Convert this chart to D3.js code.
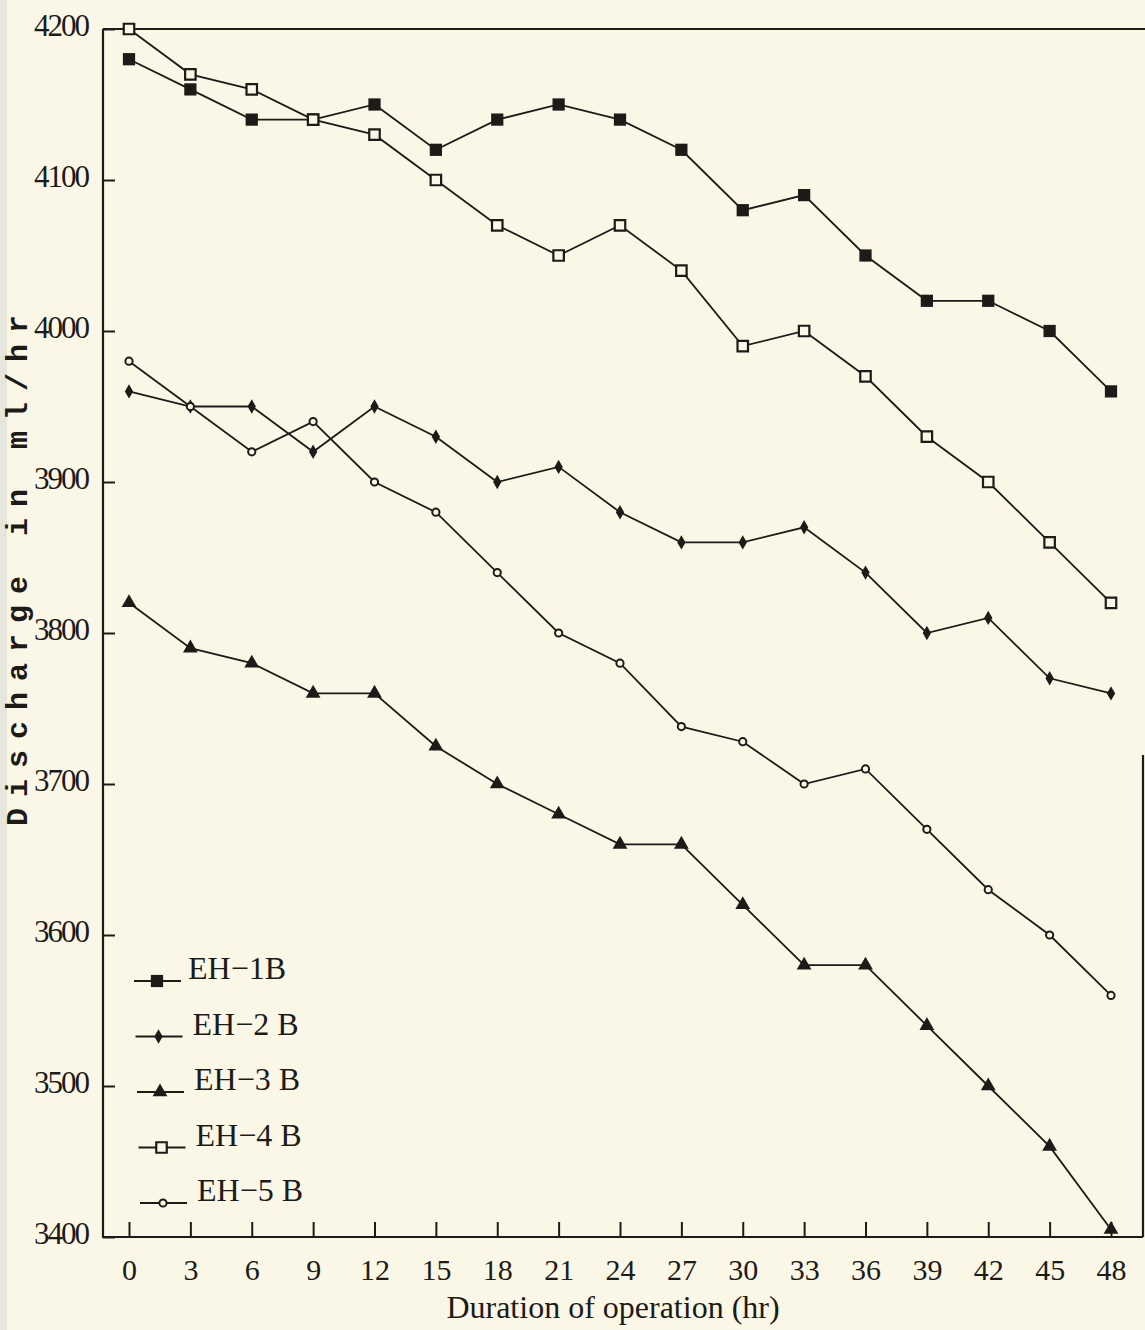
<!DOCTYPE html>
<html>
<head>
<meta charset="utf-8">
<script src="https://cdn.jsdelivr.net/npm/d3@7"></script>
<style>
  body { margin: 0; background: #fbf7e7; }
  svg { display: block; }
</style>
</head>
<body>
<svg id="chart" width="1145" height="1330"></svg>
<script>
// values
var hours = [0, 3, 6, 9, 12, 15, 18, 21, 24, 27, 30, 33, 36, 39, 42, 45, 48];
var eh1b = [4180, 4160, 4140, 4140, 4150, 4120, 4140, 4150, 4140, 4120, 4080, 4090, 4050, 4020, 4020, 4000, 3960];
var eh2b = [3960, 3950, 3950, 3920, 3950, 3930, 3900, 3910, 3880, 3860, 3860, 3870, 3840, 3800, 3810, 3770, 3760];
var eh3b = [3820, 3790, 3780, 3760, 3760, 3725, 3700, 3680, 3660, 3660, 3620, 3580, 3580, 3540, 3500, 3460, 3405];
var eh4b = [4200, 4170, 4160, 4140, 4130, 4100, 4070, 4050, 4070, 4040, 3990, 4000, 3970, 3930, 3900, 3860, 3820];
var eh5b = [3980, 3950, 3920, 3940, 3900, 3880, 3840, 3800, 3780, 3738, 3728, 3700, 3710, 3670, 3630, 3600, 3560];
var yTicks = [3400, 3500, 3600, 3700, 3800, 3900, 4000, 4100, 4200];
var seriesNames = ['EH\u22121B', 'EH\u22122 B', 'EH\u22123 B', 'EH\u22124 B', 'EH\u22125 B'];

var ink = '#1d1b18', paper = '#fbf7e7';
var series = [eh1b, eh2b, eh3b, eh4b, eh5b];

var svg = d3.select('#chart');

// faint page edge on the left
svg.append('rect').attr('x', 0).attr('y', 0).attr('width', 7).attr('height', 1330)
    .attr('fill', '#e6e6dd');

var x = d3.scaleLinear().domain([0, 48]).range([129, 1111]);
var y = d3.scaleLinear().domain([3400, 4200]).range([1237, 29]);

// frame lines
svg.append('path')
    .attr('d', 'M103,29H1145M103,29V1237H1143M1143,755V1237')
    .attr('fill', 'none').attr('stroke', ink).attr('stroke-width', 2.2);

var yAxis = svg.append('g').attr('transform', 'translate(103,0)')
    .call(d3.axisLeft(y).tickValues(yTicks).tickFormat(d3.format('d'))
        .tickSizeInner(-12).tickSizeOuter(0).tickPadding(15));
yAxis.select('.domain').remove();
yAxis.selectAll('line').attr('stroke', ink).attr('stroke-width', 2);
yAxis.selectAll('text').attr('dy', '0.2em')
    .style('font-family', '"Liberation Serif", serif').style('font-size', '31px')
    .style('letter-spacing', '-2px').attr('fill', ink);

var xAxis = svg.append('g').attr('transform', 'translate(0,1237)')
    .call(d3.axisBottom(x).tickValues(hours).tickSizeInner(-15).tickSizeOuter(0).tickPadding(22));
xAxis.select('.domain').remove();
xAxis.selectAll('line').attr('stroke', ink).attr('stroke-width', 2);
xAxis.selectAll('text')
    .style('font-family', '"Liberation Serif", serif').style('font-size', '30px').attr('fill', ink);

svg.append('text').attr('x', 613).attr('y', 1318).attr('text-anchor', 'middle')
    .style('font-family', '"Liberation Serif", serif').style('font-size', '32px').attr('fill', ink)
    .text('Duration of operation (hr)');

svg.append('text').attr('transform', 'translate(27,565) rotate(-90)').attr('text-anchor', 'middle')
    .style('font-family', '"Liberation Mono", monospace').style('font-weight', 'bold')
    .style('font-size', '30px').style('letter-spacing', '11px').attr('fill', ink)
    .text('Discharge in ml/hr');

// marker drawing, one style per series
function marker(sel, k) {
    if (k === 0) {
        sel.append('path').attr('d', d3.symbol(d3.symbolSquare, 150)()).attr('fill', ink);
    } else if (k === 1) {
        sel.append('path').attr('d', d3.symbol(d3.symbolDiamond, 60)()).attr('fill', ink);
    } else if (k === 2) {
        sel.append('path').attr('d', d3.symbol(d3.symbolTriangle, 95)()).attr('fill', ink);
    } else if (k === 3) {
        sel.append('path').attr('d', d3.symbol(d3.symbolSquare, 110)())
            .attr('fill', paper).attr('stroke', ink).attr('stroke-width', 2.2);
    } else {
        sel.append('circle').attr('r', 3.6)
            .attr('fill', paper).attr('stroke', ink).attr('stroke-width', 2);
    }
}

var line = d3.line().x(function (d, i) { return x(hours[i]); }).y(function (d) { return y(d); });

series.forEach(function (vals, k) {
    svg.append('path').datum(vals).attr('d', line)
        .attr('fill', 'none').attr('stroke', ink).attr('stroke-width', 1.8);
});
series.forEach(function (vals, k) {
    svg.append('g').selectAll('g').data(vals).enter().append('g')
        .attr('transform', function (d, i) { return 'translate(' + x(hours[i]) + ',' + y(d) + ')'; })
        .each(function () { marker(d3.select(this), k); });
});

// legend
seriesNames.forEach(function (name, k) {
    var ly = 981 + k * 55.5, lx = 134 + k * 1.5;
    var g = svg.append('g');
    g.append('line').attr('x1', lx).attr('x2', lx + 47).attr('y1', ly).attr('y2', ly)
        .attr('stroke', ink).attr('stroke-width', 2);
    marker(g.append('g').attr('transform', 'translate(' + (lx + 23) + ',' + ly + ')'), k);
    g.append('text').attr('x', lx + 54 + (k > 0 ? 3 : 0)).attr('y', ly - 2)
        .style('font-family', '"Liberation Serif", serif').style('font-size', '32px').attr('fill', ink)
        .text(name);
});
</script>
</body>
</html>
